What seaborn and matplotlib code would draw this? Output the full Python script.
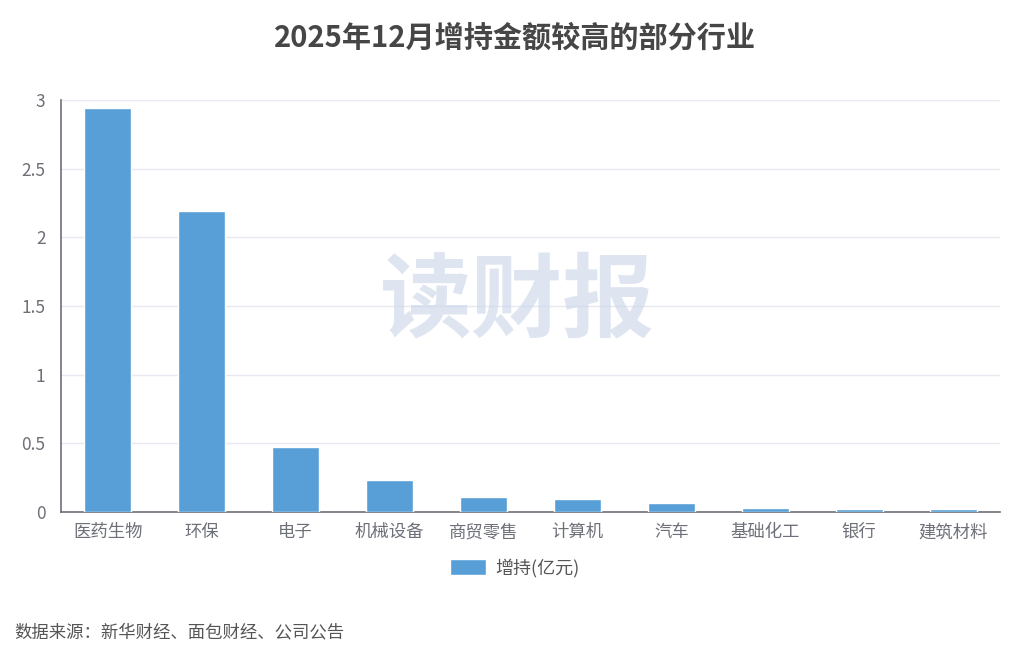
import matplotlib
matplotlib.use('Agg')
import matplotlib.pyplot as plt
import pandas as pd
import seaborn as sns

industries = ['医药生物', '环保', '电子', '机械设备', '商贸零售', '计算机', '汽车', '基础化工', '银行', '建筑材料']
increase_amount = [2.94, 2.19, 0.47, 0.23, 0.11, 0.095, 0.067, 0.026, 0.023, 0.021]
y_ticks = [0, 0.5, 1, 1.5, 2, 2.5, 3]
y_tick_labels = ['0', '0.5', '1', '1.5', '2', '2.5', '3']
series_name = '增持(亿元)'
title = '2025年12月增持金额较高的部分行业'
source_note = '数据来源：新华财经、面包财经、公司公告'
watermark = '读财报'

sns.set_theme(style='white')
plt.rcParams['font.family'] = ['Noto Sans CJK SC', 'DejaVu Sans']

df = pd.DataFrame({'industry': industries, 'amount': increase_amount})

fig = plt.figure(figsize=(10.3, 6.5), dpi=100)
ax = fig.add_axes([0.059, 0.2123, 0.912, 0.634])

sns.barplot(data=df, x='industry', y='amount', color='#579fd6', width=0.5,
            saturation=1, label=series_name, ax=ax, zorder=3)

ax.set_ylim(0, 3)
ax.set_xlim(-0.5, len(industries) - 0.5)
ax.set_yticks(y_ticks)
ax.set_yticklabels(y_tick_labels)
ax.yaxis.grid(True, color='#e6e9f0', linewidth=1, zorder=0)
ax.set_xlabel('')
ax.set_ylabel('')

for side in ['top', 'right']:
    ax.spines[side].set_visible(False)
for side in ['left', 'bottom']:
    ax.spines[side].set_color('#6e7079')
    ax.spines[side].set_linewidth(1.2)

ax.tick_params(axis='y', length=0, labelsize=12.5, labelcolor='#6e7079', pad=11)
ax.tick_params(axis='x', which='major', length=0, labelsize=12.5, labelcolor='#6e7079', pad=8)
ax.set_xticks([i + 0.5 for i in range(-1, len(industries))], minor=True)
ax.tick_params(axis='x', which='minor', length=5, width=1.2, color='#6e7079', direction='out')

ax.legend(loc='center', bbox_to_anchor=(0.5, 1 - 568 / 650), bbox_transform=fig.transFigure,
          frameon=False, fontsize=13, labelcolor='#555555', handlelength=2.0,
          handleheight=1.0, handletextpad=0.5)

fig.text(0.5, 1 - 38 / 650, title, ha='center', va='center', fontsize=21,
         fontweight='bold', color='#464646')
fig.text(517 / 1030, 1 - 302 / 650, watermark, ha='center', va='center', fontsize=66,
         fontweight='heavy', color='#cdd8ea', alpha=0.65, zorder=10)
fig.text(14 / 1030, 1 - 632 / 650, source_note, ha='left', va='center', fontsize=12.5,
         color='#555555')

fig.savefig('out.png', dpi=100)
